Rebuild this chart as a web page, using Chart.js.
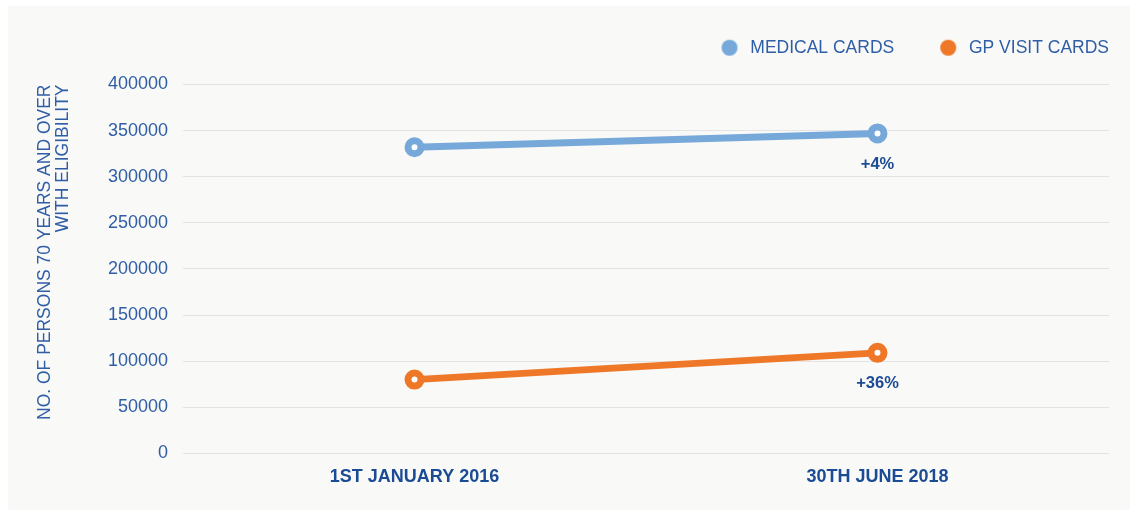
<!DOCTYPE html>
<html>
<head>
<meta charset="utf-8">
<script src="https://cdn.jsdelivr.net/npm/chart.js@4.4.1/dist/chart.umd.min.js"></script>
<style>
  body { margin: 0; background: #ffffff; }
  #panel { position: absolute; left: 8px; top: 6px; width: 1122px; height: 504px; background: #f9f9f8; }
  #wrap { position: absolute; left: 0; top: 0; width: 1137px; height: 517px; }
</style>
</head>
<body>
<div id="panel"></div>
<div id="wrap"><canvas id="myChart" width="1137" height="517"></canvas></div>
<script>
const categories = ["1ST JANUARY 2016", "30TH JUNE 2018"];
const medicalCards = [332000, 347000];
const gpVisitCards = [80000, 109000];
const changeLabels = ["+4%", "+36%"];
const yTitle = ["NO. OF PERSONS 70 YEARS AND OVER", "WITH ELIGIBILITY"];

const blue = "#76a9d9";
const orange = "#ee7828";
const tickBlue = "#2f5ea6";
const darkBlue = "#1b4b94";
const sans = "'Liberation Sans', Arial, Helvetica, sans-serif";

// legend dot: plain filled circle on a small canvas
function legendDot(color) {
  const c = document.createElement("canvas");
  c.width = 18;
  c.height = 18;
  const g = c.getContext("2d");
  g.fillStyle = color;
  g.beginPath();
  g.arc(9, 9, 8, 0, Math.PI * 2);
  g.fill();
  return c;
}

// draws the % change under the last point of each line
const changePlugin = {
  id: "changeLabels",
  afterDatasetsDraw(chart) {
    const ctx = chart.ctx;
    ctx.save();
    ctx.font = "bold 16.5px " + sans;
    ctx.fillStyle = darkBlue;
    ctx.textAlign = "center";
    ctx.textBaseline = "middle";
    chart.data.datasets.forEach((ds, i) => {
      const meta = chart.getDatasetMeta(i);
      const pt = meta.data[meta.data.length - 1];
      ctx.fillText(changeLabels[i], pt.x, pt.y + 31);
    });
    ctx.restore();
  },
};

// nudge the legend to the top right corner
const legendShift = {
  id: "legendShift",
  afterLayout(chart) {
    const lg = chart.legend;
    if (!lg) return;
    lg.left += 42;
    lg.right += 42;
    lg.top -= 18;
    lg.bottom -= 18;
  },
};

const ctx = document.getElementById("myChart").getContext("2d");

new Chart(ctx, {
  type: "line",
  data: {
    labels: categories,
    datasets: [
      {
        label: "MEDICAL CARDS",
        data: medicalCards,
        borderColor: blue,
        backgroundColor: blue,
        borderWidth: 7,
        pointRadius: 6.5,
        pointBorderWidth: 7,
        pointBackgroundColor: "#ffffff",
        pointBorderColor: blue,
      },
      {
        label: "GP VISIT CARDS",
        data: gpVisitCards,
        borderColor: orange,
        backgroundColor: orange,
        borderWidth: 7,
        pointRadius: 6.5,
        pointBorderWidth: 7,
        pointBackgroundColor: "#ffffff",
        pointBorderColor: orange,
      },
    ],
  },
  options: {
    responsive: false,
    animation: false,
    layout: {
      padding: { left: 8, right: 28, top: 15, bottom: 16 },
    },
    plugins: {
      tooltip: { enabled: false },
      legend: {
        position: "top",
        align: "end",
        labels: {
          usePointStyle: true,
          pointStyleWidth: 24,
          boxHeight: 16,
          padding: 42,
          color: tickBlue,
          font: { family: sans, size: 17.5 },
          generateLabels(chart) {
            return chart.data.datasets.map((ds, i) => ({
              text: ds.label,
              fillStyle: ds.borderColor,
              strokeStyle: ds.borderColor,
              lineWidth: 0,
              pointStyle: legendDot(ds.borderColor),
              fontColor: tickBlue,
              datasetIndex: i,
            }));
          },
        },
      },
    },
    scales: {
      x: {
        offset: true,
        grid: { display: false, drawTicks: false },
        border: { display: false },
        ticks: {
          padding: 13,
          color: darkBlue,
          font: { family: sans, size: 18, weight: "bold" },
        },
      },
      y: {
        min: 0,
        max: 400000,
        grid: { color: "#e4e4e4", lineWidth: 1, drawTicks: false },
        border: { display: false },
        afterFit(scale) {
          scale.width = 175;
        },
        ticks: {
          stepSize: 50000,
          padding: 15,
          color: tickBlue,
          font: { family: sans, size: 18 },
          callback: (v) => String(v),
        },
        title: {
          display: true,
          text: yTitle,
          align: "end",
          color: tickBlue,
          font: { family: sans, size: 17.5, lineHeight: 1.05 },
          padding: { top: 28, bottom: 0 },
        },
      },
    },
  },
  plugins: [changePlugin, legendShift],
});
</script>
</body>
</html>
